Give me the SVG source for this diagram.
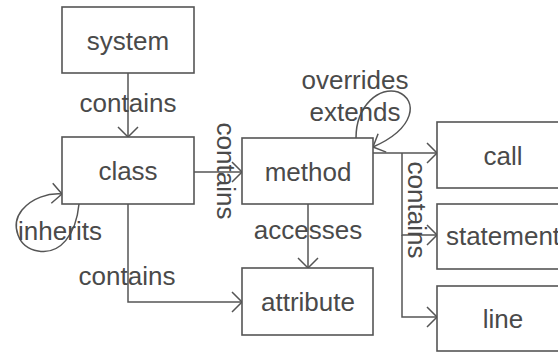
<svg xmlns="http://www.w3.org/2000/svg" width="558" height="353" viewBox="0 0 558 353">
<defs>
<style>
.box{fill:#fff;stroke:#555;stroke-width:1.6}
.t{font-family:"Liberation Sans",Arial,sans-serif;font-size:26px;fill:#4a4a4a;text-anchor:middle}
.e{fill:none;stroke:#555;stroke-width:1.5}
.lbl{font-family:"Liberation Sans",Arial,sans-serif;font-size:26px;fill:#4a4a4a;text-anchor:middle}
</style>
<marker id="arr" markerUnits="userSpaceOnUse" markerWidth="24" markerHeight="24" refX="12" refY="12" orient="auto" viewBox="0 0 24 24">
<path d="M2,2 L12,12 L2,22" fill="none" stroke="#555" stroke-width="1.5"/>
</marker>
</defs>
<rect width="558" height="353" fill="#fff"/>
<g id="connectors">
<path class="e" d="M128,73 L128,137" marker-end="url(#arr)"/>
<path class="e" d="M194,172 L242,172" marker-end="url(#arr)"/>
<path class="e" d="M128,204 L128,302 L242,302" marker-end="url(#arr)"/>
<path class="e" d="M308,204 L308,268" marker-end="url(#arr)"/>
<path class="e" d="M373,153 L437,153" marker-end="url(#arr)"/>
<path class="e" d="M402,153 L402,235 L437,235" marker-end="url(#arr)"/>
<path class="e" d="M402,235 L402,317 L437,317" marker-end="url(#arr)"/>
<path class="e" d="M356,138 C356,105 380,86 398,92 C418,100 416,128 373,147" marker-end="url(#arr)"/>
<path class="e" d="M79,204 C76,235 60,255 38,251 C18,248 10,225 22,210 C32,198 48,193 62,194" marker-end="url(#arr)"/>
<text class="lbl" x="128" y="112">contains</text>
<text class="lbl" transform="translate(217,171) rotate(90)">contains</text>
<text class="lbl" x="127" y="285">contains</text>
<text class="lbl" x="308" y="239">accesses</text>
<text class="lbl" x="355" y="89">overrides</text>
<text class="lbl" x="355" y="121">extends</text>
<text class="lbl" transform="translate(408,210) rotate(90)">contains</text>
<text class="lbl" x="60" y="240">inherits</text>
</g>
<g id="system"><rect class="box" x="62" y="7" width="132" height="66"/><text class="t" x="128" y="50">system</text></g>
<g id="class"><rect class="box" x="62" y="137" width="132" height="67"/><text class="t" x="128" y="180">class</text></g>
<g id="method"><rect class="box" x="242" y="138" width="131" height="66"/><text class="t" x="308" y="181">method</text></g>
<g id="attribute"><rect class="box" x="242" y="268" width="131" height="67"/><text class="t" x="308" y="311">attribute</text></g>
<g id="call"><rect class="box" x="437" y="122" width="131" height="66"/><text class="t" x="503" y="165">call</text></g>
<g id="statement"><rect class="box" x="437" y="204" width="131" height="65"/><text class="t" x="503" y="245">statement</text></g>
<g id="line"><rect class="box" x="437" y="286" width="131" height="65"/><text class="t" x="503" y="328">line</text></g>
</svg>
